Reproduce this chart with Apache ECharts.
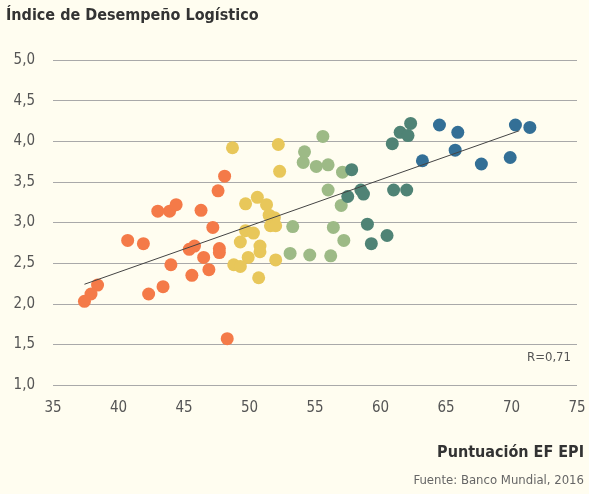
<!DOCTYPE html>
<html>
<head>
<meta charset="utf-8">
<script src="https://cdn.jsdelivr.net/npm/echarts@6/dist/echarts.min.js"></script>
<style>
  html, body { margin: 0; padding: 0; background: #fffdf0; }
  #chart { width: 589px; height: 494px; }
</style>
</head>
<body>
<div id="chart"></div>
<script>
// [Puntuación EF EPI, Índice de Desempeño Logístico]
var naranja = [
  [48.1, 3.57], [47.6, 3.39], [43.0, 3.14], [43.9, 3.14], [44.4, 3.22],
  [46.3, 3.15], [47.2, 2.94], [40.7, 2.78], [41.9, 2.74], [45.4, 2.67],
  [45.8, 2.71], [47.7, 2.68], [47.7, 2.63], [46.5, 2.57], [44.0, 2.48],
  [45.6, 2.35], [46.9, 2.42], [38.4, 2.23], [37.9, 2.12], [37.4, 2.03],
  [42.3, 2.12], [43.4, 2.21], [48.3, 1.57]
]
var amarillo = [
  [48.7, 3.92], [52.2, 3.96], [52.3, 3.63], [49.7, 3.23], [50.6, 3.31],
  [51.3, 3.22], [51.5, 3.09], [51.9, 3.06], [51.6, 2.96], [52.0, 2.96],
  [49.7, 2.90], [50.3, 2.87], [49.3, 2.76], [50.8, 2.71], [50.8, 2.64],
  [49.9, 2.57], [52.0, 2.54], [48.8, 2.48], [49.3, 2.46], [50.7, 2.32]
]
var verdeClaro = [
  [55.6, 4.06], [54.2, 3.87], [54.1, 3.74], [55.1, 3.69], [56.0, 3.71],
  [57.1, 3.62], [56.0, 3.40], [57.0, 3.21], [53.3, 2.95], [56.4, 2.94],
  [57.2, 2.78], [53.1, 2.62], [54.6, 2.60], [56.2, 2.59]
]
var verdeOscuro = [
  [57.8, 3.65], [57.5, 3.32], [58.5, 3.40], [58.7, 3.35], [59.0, 2.98],
  [59.3, 2.74], [60.5, 2.84], [60.9, 3.97], [61.5, 4.11], [62.1, 4.07],
  [62.3, 4.22], [61.0, 3.40], [62.0, 3.40]
]
var azul = [
  [64.5, 4.20], [65.9, 4.11], [65.7, 3.89], [63.2, 3.76], [67.7, 3.72],
  [69.9, 3.80], [70.3, 4.20], [71.4, 4.17]
]
// recta de tendencia (extremos)
var tendencia = [[37.4, 2.24], [70.6, 4.13]]

var fuente = '"DejaVu Sans Condensed", "Liberation Sans Narrow", sans-serif'

function coma(v) {
  return v.toFixed(1).replace('.', ',')
}

function puntos(datos, color) {
  return {
    type: 'scatter',
    data: datos,
    symbolSize: 13,
    itemStyle: { color: color, opacity: 1 },
    z: 3
  }
}

var chart = echarts.init(document.getElementById('chart'))

chart.setOption({
  backgroundColor: '#fffdf0',
  animation: false,
  textStyle: { fontFamily: fuente },
  grid: { left: 53, right: 12, top: 60, bottom: 109 },
  xAxis: {
    type: 'value',
    min: 35,
    max: 75,
    interval: 5,
    axisLine: { show: false },
    axisTick: { show: false },
    splitLine: { show: false },
    axisLabel: { color: '#555', fontSize: 15, margin: 16, fontFamily: fuente }
  },
  yAxis: {
    type: 'value',
    min: 1,
    max: 5,
    interval: 0.5,
    axisLine: { show: false },
    axisTick: { show: false },
    splitLine: { lineStyle: { color: '#a9a9a9', width: 1 } },
    axisLabel: {
      color: '#555', fontSize: 15, margin: 18, fontFamily: fuente,
      formatter: coma
    }
  },
  series: [
    puntos(naranja, '#f47a48'),
    puntos(amarillo, '#e8c75a'),
    puntos(verdeClaro, '#9dba86'),
    puntos(verdeOscuro, '#4f8375'),
    puntos(azul, '#336f96'),
    {
      type: 'line',
      data: tendencia,
      symbol: 'none',
      lineStyle: { color: '#444', width: 1 },
      z: 4
    }
  ],
  graphic: [
    {
      type: 'text', left: 6, top: 8,
      style: { text: 'Índice de Desempeño Logístico', font: 'bold 16px ' + fuente, fill: '#333' }
    },
    {
      type: 'text', right: 18, top: 351,
      style: { text: 'R=0,71', font: '13px ' + fuente, fill: '#555' }
    },
    {
      type: 'text', right: 5, top: 445,
      style: { text: 'Puntuación EF EPI', font: 'bold 16px ' + fuente, fill: '#333' }
    },
    {
      type: 'text', right: 5, top: 474,
      style: { text: 'Fuente: Banco Mundial, 2016', font: '13px ' + fuente, fill: '#666' }
    }
  ]
})
</script>
</body>
</html>
